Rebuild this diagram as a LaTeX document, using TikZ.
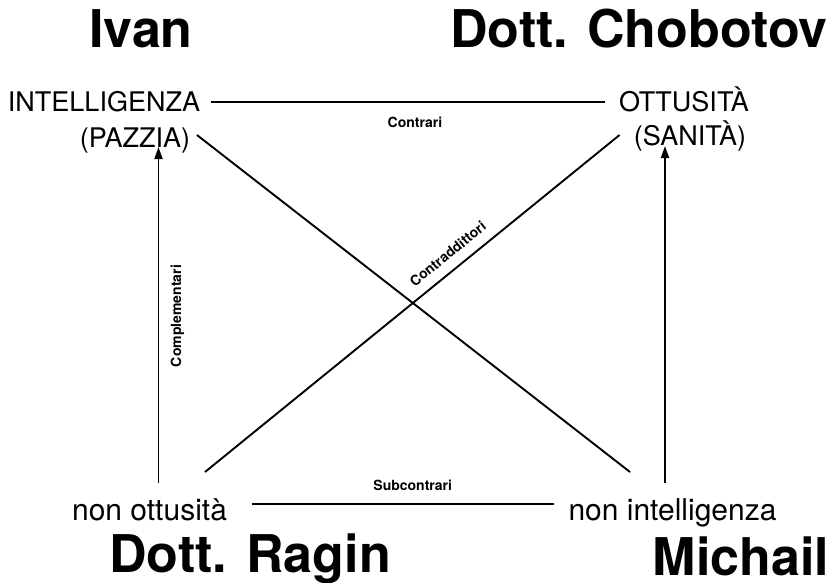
\documentclass[tikz,border=0pt]{standalone}
\usepackage{fontspec}
\setmainfont{TeX Gyre Heros}
\usetikzlibrary{arrows.meta}
\begin{document}
\begin{tikzpicture}[x=1pt, y=-1pt,
  term/.style={inner sep=0pt, outer sep=0pt, text height=19.4pt, text depth=0pt,
    anchor=base, font=\fontsize{27}{32}\selectfont},
  bigterm/.style={term, text height=21.6pt, font=\fontsize{30}{36}\selectfont},
  who/.style={inner sep=0pt, anchor=base, font=\fontsize{52}{62}\selectfont\bfseries},
  rel/.style={inner sep=0pt, outer sep=0pt, text height=10pt, text depth=0pt,
    font=\fontsize{14}{16}\selectfont\bfseries},
  link/.style={line width=1.9pt},
  arr/.style={link, -{Triangle[length=12pt,width=8pt]}}]
\useasboundingbox (0,0) rectangle (835,583);

% the four corners of the square
\node[term] (intel)  at (104,112)   {INTELLIGENZA};
\node[term] (pazzia) at (135,147)   {(PAZZIA)};
\node[term] (ottus)  at (684,112)   {OTTUSITÀ};
\node[term] (sanita) at (690,146)   {(SANITÀ)};
\node[bigterm] (nonott) at (149.5,520) {non ottusità};
\node[bigterm] (nonint) at (672.5,520) {non intelligenza};

% characters
\node[who] (ivan)  at (141,48)  {Ivan};
\node[who] (chob)  at (639,48)  {Dott. Chobotov};
\node[who] (ragin) at (250,572) {Dott. Ragin};
\node[who] (mich)  at (741,575) {Michail};

% contraries
\draw[link, shorten <=11pt, shorten >=14pt] (intel.east) -- (intel.east -| ottus.west)
  node[rel, pos=0.513, yshift=-20.5pt] (contrari) {Contrari};

% subcontraries
\coordinate (sc) at ([xshift=25pt,yshift=5.5pt]nonott.east);
\draw[link, shorten >=15pt] (sc) -- (sc -| nonint.west)
  node[rel, pos=0.508, yshift=18.5pt] (subc) {Subcontrari};

% contradictories
\draw[link] ([xshift=6.75pt,yshift=2.3pt]pazzia.east) -- ([xshift=-42.5pt,yshift=26.4pt]nonint.north);
\draw[link] ([xshift=55.5pt,yshift=26.4pt]nonott.north) -- ([xshift=-14.25pt,yshift=1.3pt]sanita.west)
  node[rel, sloped, pos=0.61, above=11pt] (contrad) {Contraddittori};

% complementaries
\coordinate (cl) at ([xshift=9pt,yshift=15.4pt]nonott.north);
\draw[arr] (cl) -- (cl |- pazzia.south)
  node[rel, sloped, pos=0.497, below=12.5pt] (compl) {Complementari};
\coordinate (cr) at ([xshift=-7.5pt,yshift=15.4pt]nonint.north);
\draw[arr] (cr) -- (cr |- sanita.south);
\end{tikzpicture}
\end{document}
